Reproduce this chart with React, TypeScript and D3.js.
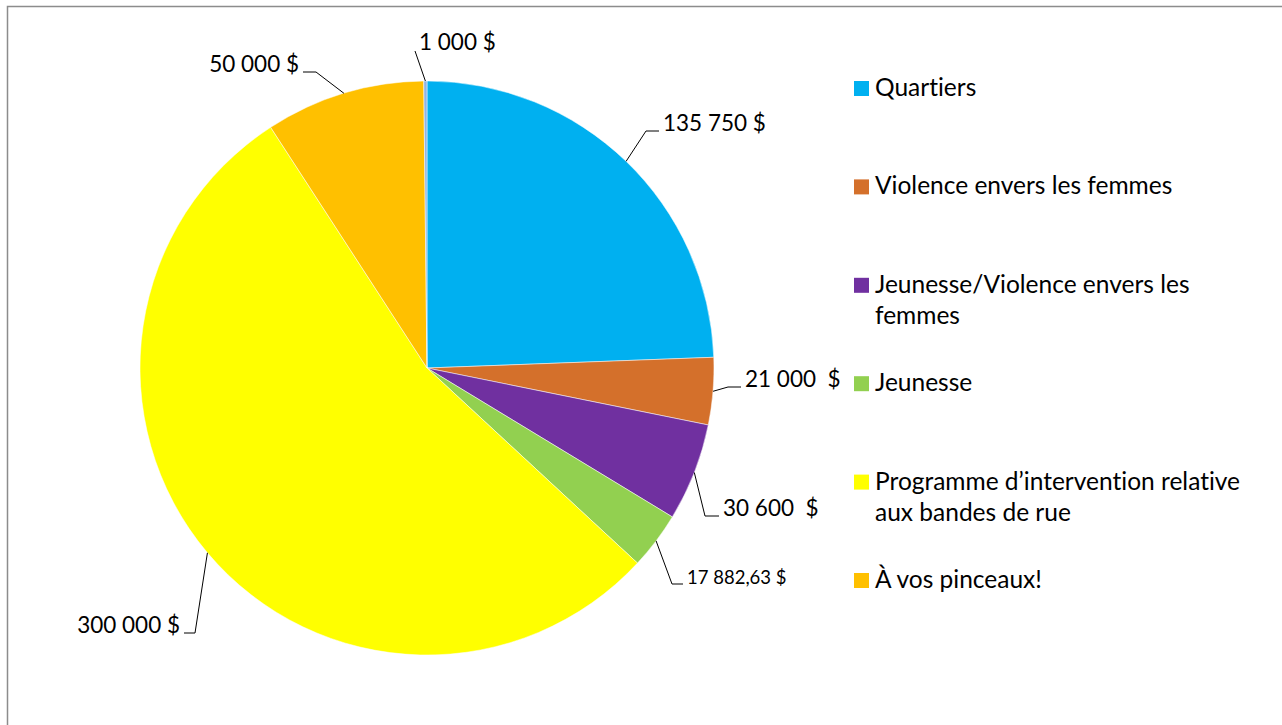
import React from "react";
import * as d3 from "d3";

const categories = [
  "Quartiers",
  "Violence envers les femmes",
  "Jeunesse/Violence envers les femmes",
  "Jeunesse",
  "Programme d’intervention relative aux bandes de rue",
  "À vos pinceaux!",
  "Autre",
];
const values = [135750, 21000, 30600, 17882.63, 300000, 50000, 1000];
const valueLabels = ["135 750 $", "21 000  $", "30 600  $", "17 882,63 $", "300 000 $", "50 000 $", "1 000 $"];
const colors = ["#00B0F0", "#D4702B", "#7030A0", "#92D050", "#FFFF00", "#FFC000", "#8EB4E3"];
const legendLines = [
  ["Quartiers"],
  ["Violence envers les femmes"],
  ["Jeunesse/Violence envers les", "femmes"],
  ["Jeunesse"],
  ["Programme d’intervention relative", "aux bandes de rue"],
  ["À vos pinceaux!"],
];

// label layout: text anchor point (x, baseline y), horizontal leader length, side
const labelLayout = [
  { x: 663, y: 131, seg: 13, side: "right", size: 22.5 },
  { x: 745, y: 387, seg: 13, side: "right", size: 22.5 },
  { x: 723, y: 516, seg: 14, side: "right", size: 22.5 },
  { x: 687, y: 584, seg: 11, side: "right", size: 18.5 },
  { x: 180, y: 633, seg: 11, side: "left", size: 22.5 },
  { x: 299, y: 72, seg: 13, side: "left", size: 22.5 },
  { x: 419, y: 50, seg: 0, side: "none", size: 22.5 },
];

const cx = 427;
const cy = 368;
const R = 287;
const FONT = "Lato, 'Open Sans', sans-serif";

export default function App() {
  const pie = d3.pie<number>().sort(null).value((d) => d);
  const arcs = pie(values);
  const arcGen = d3.arc<d3.PieArcDatum<number>>().innerRadius(0).outerRadius(R);

  const legendX = 854;
  const legendY0 = 96;
  const legendStep = 98.4;

  return (
    <div style={{ position: "fixed", left: 0, top: 0 }}>
      <svg width={1282} height={725} style={{ display: "block", background: "#fff", fontVariantLigatures: "none" }}>
        <rect x={7.5} y={6.5} width={1300} height={800} fill="#fff" stroke="#8C8C8C" strokeWidth={1.5} />
        <g transform={`translate(${cx},${cy})`}>
          {arcs.map((a, i) => (
            <path key={i} d={arcGen(a) || ""} fill={colors[i]} stroke="#fff" strokeWidth={0.5} />
          ))}
        </g>
        {arcs.map((a, i) => {
          const mid = (a.startAngle + a.endAngle) / 2;
          const px = cx + R * Math.sin(mid);
          const py = cy - R * Math.cos(mid);
          const L = labelLayout[i];
          let pts: [number, number][];
          let anchor = "start";
          if (L.side === "right") {
            const ex = L.x - 4;
            pts = [[px, py], [ex - L.seg, L.y], [ex, L.y]];
          } else if (L.side === "left") {
            const ex = L.x + 4;
            pts = [[px, py], [ex + L.seg, L.y], [ex, L.y]];
            anchor = "end";
          } else {
            pts = [[px, py], [L.x - 4, L.y + 1]];
          }
          return (
            <g key={i}>
              <path d={d3.line()(pts) || ""} fill="none" stroke="#000" strokeWidth={1} />
              <text
                x={L.x}
                y={L.y}
                textAnchor={anchor}
                fontFamily={FONT}
                fontSize={L.size}
                fill="#000"
                style={{ whiteSpace: "pre" }}
              >
                {valueLabels[i]}
              </text>
            </g>
          );
        })}
        {legendLines.map((lines, i) => {
          const by = legendY0 + i * legendStep;
          return (
            <g key={i}>
              <rect x={legendX} y={by - 15} width={15} height={15} fill={colors[i]} />
              {lines.map((t, j) => (
                <text key={j} x={legendX + 21} y={by + j * 31} fontFamily={FONT} fontSize={24.5} fill="#000">
                  {t}
                </text>
              ))}
            </g>
          );
        })}
      </svg>
    </div>
  );
}
